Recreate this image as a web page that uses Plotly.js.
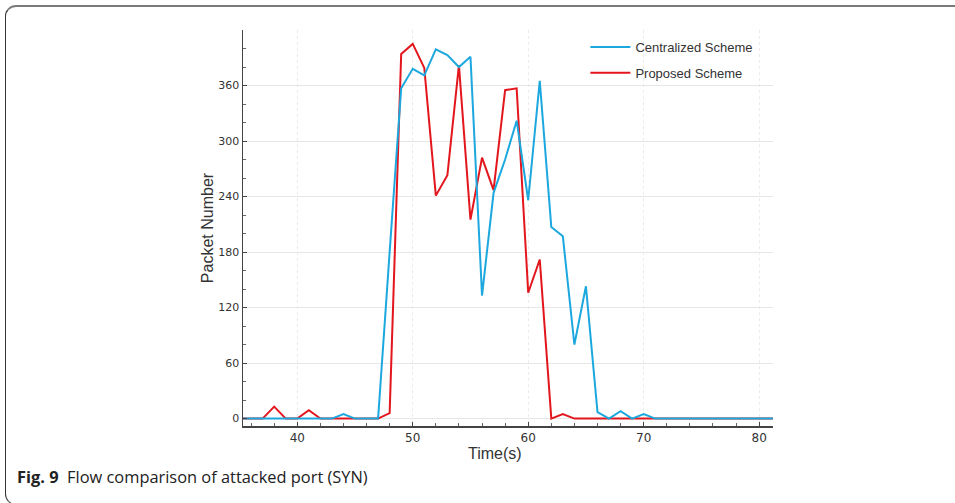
<!DOCTYPE html>
<html>
<head>
<meta charset="utf-8">
<script src="https://cdn.plot.ly/plotly-3.0.1.min.js"></script>
<style>
  html, body { margin: 0; padding: 0; background: #fff; }
  #wrap { position: relative; width: 955px; height: 503px; overflow: hidden; }
  #chart { position: absolute; left: 0; top: 0; width: 955px; height: 503px; }
  #frame { position: absolute; left: 5px; top: 5px; width: 1000px; height: 500px;
           border-top: 2px solid #7a7a7a; border-left: 1.5px solid #333;
           border-bottom: 1.5px solid #555;
           border-top-left-radius: 11px; border-bottom-left-radius: 11px;
           pointer-events: none; box-sizing: border-box; }
</style>
</head>
<body>
<div id="wrap">
  <div id="chart"></div>
  <div id="frame"></div>
</div>
<script>
// Time (s)
const time = [35,36,37,38,39,40,41,42,43,44,45,46,47,48,49,50,51,52,53,54,55,56,57,58,59,60,61,62,63,64,65,66,67,68,69,70,71,72,73,74,75,76,77,78,79,80,81,82];
// Centralized Scheme packet numbers
const centralized = [0,0,0,0,0,0,0,0,0,5,0,0,0,180,357,378,371,399,393,380,391,133,244,280,322,236,365,207,197,80,143,7,0,8,0,5,0,0,0,0,0,0,0,0,0,0,0,0];
// Proposed Scheme packet numbers
const proposed = [0,0,0,13,0,0,9,0,0,0,0,0,0,6,394,405,379,241,263,382,215,282,247,355,357,136,172,0,5,0,0,0,0,0,0,0,0,0,0,0,0,0,0,0,0,0,0,0];
const yTicks = [0,60,120,180,240,300,360];
const xTicks = [40,50,60,70,80];

const traces = [
  { x: time, y: proposed, type: 'scatter', mode: 'lines', name: 'Proposed Scheme',
    line: { color: '#e3161d', width: 2 }, legendrank: 2, legendgroup: 'b' },
  { x: time, y: centralized, type: 'scatter', mode: 'lines', name: 'Centralized Scheme',
    line: { color: '#1ca8de', width: 2 }, legendrank: 1, legendgroup: 'a' }
];

const layout = {
  width: 955, height: 503,
  margin: { l: 243, r: 182, t: 30, b: 77 },
  paper_bgcolor: '#ffffff', plot_bgcolor: '#ffffff',
  font: { family: 'Liberation Sans, Arial, sans-serif', color: '#333' },
  showlegend: true,
  legend: { x: 0.646, y: 0.995, xanchor: 'left', yanchor: 'top',
            font: { size: 13, color: '#333', family: 'Liberation Sans, Arial, sans-serif' },
            bgcolor: 'rgba(0,0,0,0)', traceorder: 'grouped', tracegroupgap: 6, itemwidth: 40 },
  xaxis: {
    range: [35.3, 81.2], tickmode: 'array', tickvals: xTicks, ticktext: xTicks.map(String),
    showline: true, linecolor: '#444', linewidth: 1.5, mirror: false,
    ticks: 'inside', ticklen: 4, tickcolor: '#444',
    minor: { dtick: 2, tick0: 0, ticks: 'inside', ticklen: 3, tickcolor: '#666', showgrid: false },
    showgrid: true, gridcolor: '#ebebeb', griddash: 'dot', gridwidth: 1,
    zeroline: false,
    tickfont: { size: 12, color: '#333', family: 'DejaVu Sans, sans-serif' }
  },
  yaxis: {
    range: [-8, 420], tickmode: 'array', tickvals: yTicks, ticktext: yTicks.map(String),
    showline: true, linecolor: '#444', linewidth: 1.5,
    ticks: 'inside', ticklen: 4, tickcolor: '#444',
    minor: { dtick: 20, tick0: 0, ticks: 'inside', ticklen: 3, tickcolor: '#666', showgrid: false },
    showgrid: true, gridcolor: '#e6e6e6', gridwidth: 1,
    zeroline: false,
    tickfont: { size: 11, color: '#333', family: 'DejaVu Sans, sans-serif' },
    title: { text: 'Packet Number', font: { size: 16, color: '#333' }, standoff: 0 }
  },
  annotations: [
    { text: 'Time(s)', xref: 'paper', yref: 'paper', x: (495 - 243) / 530, y: (426 - 453) / 396,
      xanchor: 'center', yanchor: 'middle', showarrow: false,
      font: { size: 16, color: '#333', family: 'Liberation Sans, Arial, sans-serif' } },
    { text: '<b>Fig. 9</b>  Flow comparison of attacked port (SYN)', xref: 'paper', yref: 'paper',
      x: (15 - 243) / 530, y: (426 - 476) / 396, xanchor: 'left', yanchor: 'middle', showarrow: false,
      font: { size: 16.4, color: '#222', family: 'Open Sans, Noto Sans, sans-serif' } }
  ]
};

Plotly.newPlot('chart', traces, layout, { displayModeBar: false, staticPlot: true });
</script>
</body>
</html>
